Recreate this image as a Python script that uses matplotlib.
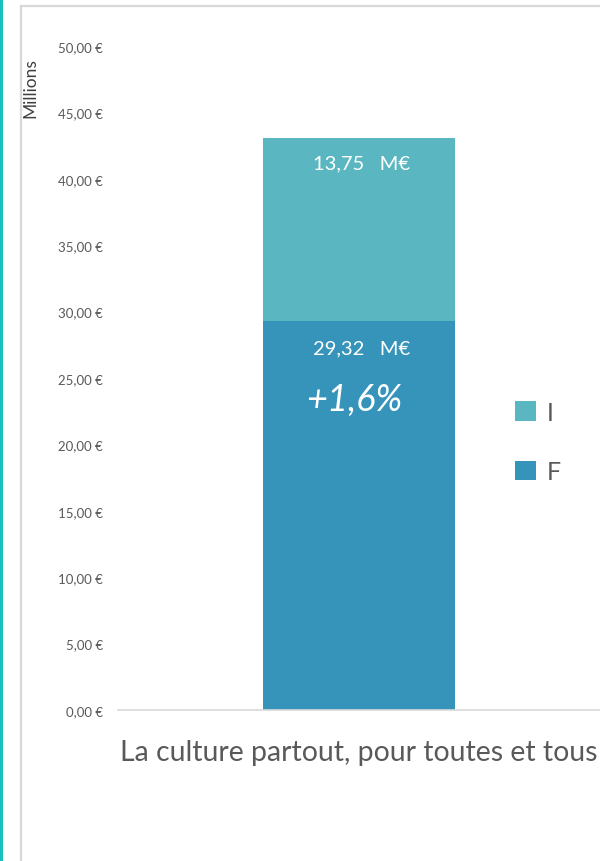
import matplotlib
matplotlib.use("Agg")
import matplotlib.pyplot as plt
from matplotlib.lines import Line2D
from matplotlib.patches import Rectangle

plt.rcParams['font.family'] = ['Lato', 'DejaVu Sans']

categories = ["La culture partout, pour toutes et tous"]
series_names = ["F", "I"]
values_F = [29.32]
values_I = [13.75]
label_F = ["29,32   M€"]
label_I = ["13,75   M€"]
growth_text = "+1,6%"
growth_y = 23.4
yticks = [0, 5, 10, 15, 20, 25, 30, 35, 40, 45, 50]

col_F = "#3694BB"
col_I = "#5AB6C0"
grey_txt = "#595959"

W, H = 600, 862
fig = plt.figure(figsize=(W / 100, H / 100), dpi=100)

# outer frame
fig.add_artist(Rectangle((0, 0), 3 / W, 1, transform=fig.transFigure, color="#17C1C1", lw=0))
fig.add_artist(Line2D([21 / W, 21 / W], [0, 1 - 7 / H], transform=fig.transFigure, color="#D9D9D9", lw=1.6))
fig.add_artist(Line2D([21 / W, 1], [1 - 7 / H, 1 - 7 / H], transform=fig.transFigure, color="#D9D9D9", lw=1.6))

left, right = 118 / W, 600 / W
bottom, top = 1 - 711 / H, 1 - 47 / H
ax = fig.add_axes([left, bottom, right - left, top - bottom])

x = list(range(len(categories)))
bw = 192 / 482
bF = ax.bar(x, values_F, width=bw, color=col_F, label=series_names[0], zorder=2)
bI = ax.bar(x, values_I, width=bw, bottom=values_F, color=col_I, label=series_names[1], zorder=2)

ax.set_xlim(-0.5, 0.5)
ax.set_ylim(0, 50)
ax.set_yticks(yticks)
ax.set_yticklabels([f"{v:.2f}".replace(".", ",") + "\u00a0€" for v in yticks],
                   fontsize=9.5, color=grey_txt)
ax.set_xticks(x)
ax.set_xticklabels(categories, fontsize=20.4, color=grey_txt)
ax.tick_params(axis="y", length=0, pad=11)
ax.tick_params(axis="x", length=0, pad=21)
for s in ["left", "right", "top"]:
    ax.spines[s].set_visible(False)
ax.spines["bottom"].set_color("#D9D9D9")
ax.spines["bottom"].set_linewidth(1.2)

for i in x:
    ax.annotate(label_I[i], (i, values_F[i] + values_I[i]), xytext=(3, -25),
                textcoords="offset pixels", ha="center", va="center",
                color="white", fontsize=14.5)
    ax.annotate(label_F[i], (i, values_F[i]), xytext=(3, -27),
                textcoords="offset pixels", ha="center", va="center",
                color="white", fontsize=14.5)
ax.text(-0.01, growth_y, growth_text, ha="center", va="center", color="white",
        fontsize=26, style="italic")

fig.text(30 / W, 1 - 88 / H, "Millions", rotation=90, ha="center", va="center",
         fontsize=12.5, color="#404040")

fig.legend(handles=[bI, bF], labels=[series_names[1], series_names[0]],
           loc="center left", bbox_to_anchor=(492 / W, 1 - 443 / H),
           frameon=False, fontsize=18, handlelength=0.85, handleheight=0.85,
           handletextpad=0.45, labelspacing=1.45, labelcolor=grey_txt)

fig.savefig("out.png", dpi=100)
